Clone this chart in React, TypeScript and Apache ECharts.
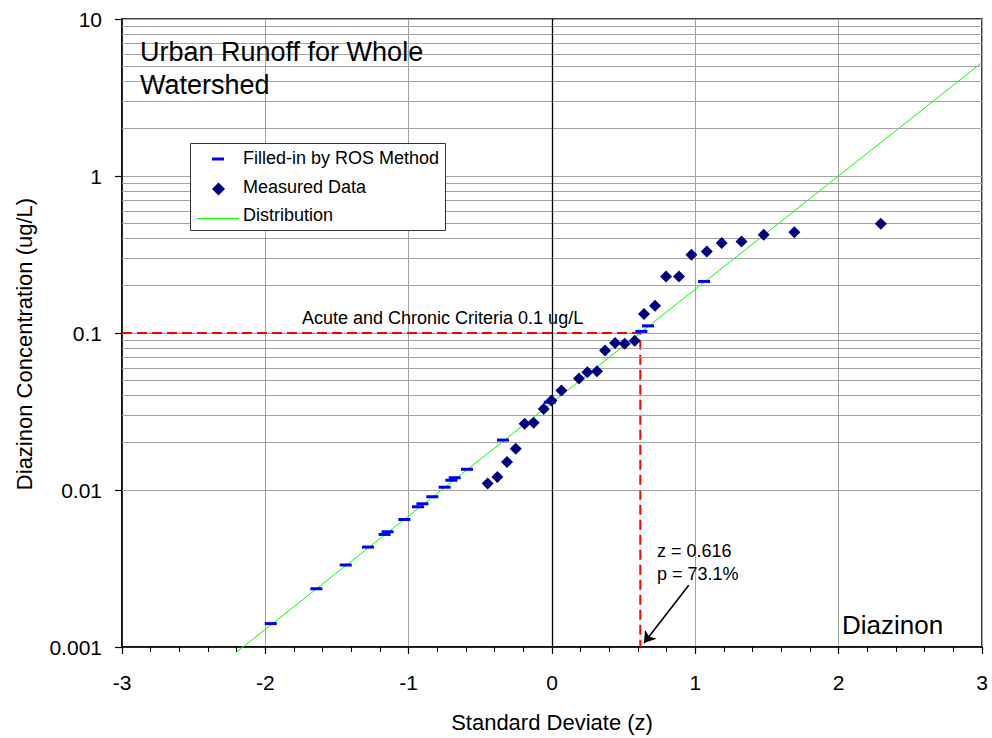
import React, { useEffect, useRef } from "react";
import * as echarts from "echarts";

const FONT = '"Liberation Sans", Arial, Helvetica, sans-serif';

// Filled-in by ROS method (standard deviate z, concentration ug/L)
const rosZ = [-1.962, -1.644, -1.439, -1.284, -1.168, -1.147, -1.03, -0.935, -0.904, -0.835, -0.749, -0.702, -0.679, -0.593, -0.342, -0.016, 0.624, 0.67, 1.061];
const rosC = [0.00141, 0.00235, 0.00333, 0.00433, 0.00521, 0.00542, 0.00649, 0.00782, 0.00817, 0.00906, 0.01042, 0.01154, 0.01197, 0.01355, 0.0208, 0.0362, 0.1024, 0.111, 0.213];

// Measured data
const measZ = [-0.449, -0.381, -0.314, -0.253, -0.191, -0.128, -0.058, -0.004, 0.066, 0.188, 0.247, 0.314, 0.37, 0.44, 0.507, 0.577, 0.642, 0.719, 0.796, 0.886, 0.973, 1.08, 1.184, 1.322, 1.477, 1.691, 2.294];
const measC = [0.011, 0.0121, 0.0151, 0.0183, 0.0264, 0.0268, 0.0328, 0.0371, 0.043, 0.0514, 0.0562, 0.057, 0.0775, 0.0863, 0.0855, 0.0893, 0.132, 0.149, 0.229, 0.229, 0.315, 0.33, 0.374, 0.383, 0.422, 0.439, 0.496];

// Fitted distribution line end points
const distZ = [-2.2, 3];
const distC = [0.00093, 5.28];

// Criterion
const critZ = 0.616;
const critC = 0.1;
const critP = "73.1%";
const critLabel = "Acute and Chronic Criteria 0.1 ug/L";

// Arrow annotation (from label to criterion z on the bottom axis)
const arrowFrom = [0.954, 0.00247];
const arrowTo = [0.642, 0.00106];

// Axes
const xMin = -3;
const xMax = 3;
const yMin = 0.001;
const yMax = 10;
const decades = [0.001, 0.01, 0.1, 1];
const minorMultipliers = [2, 3, 4, 5, 6, 7, 8, 9];

const legendItems = ["Filled-in by ROS Method", "Measured Data", "Distribution"];

export default function App() {
  const ref = useRef<HTMLDivElement>(null);

  useEffect(() => {
    if (!ref.current) return;
    const chart = echarts.init(ref.current, null, { renderer: "svg" });

    const minorValues: number[] = [];
    decades.forEach((d) =>
      minorMultipliers.forEach((m) => minorValues.push(Number((d * m).toPrecision(3))))
    );

    const gridColor = "#a3a3a3";

    const option: any = {
      animation: false,
      backgroundColor: "#fff",
      textStyle: { fontFamily: FONT },
      grid: {
        left: 122,
        right: 10,
        top: 19,
        bottom: 90,
        show: true,
        borderColor: "#000",
        borderWidth: 1.5,
        backgroundColor: "transparent",
      },
      xAxis: {
        type: "value",
        min: xMin,
        max: xMax,
        interval: 1,
        name: "Standard Deviate (z)",
        nameLocation: "middle",
        nameGap: 64,
        nameTextStyle: { fontSize: 22, color: "#000", fontFamily: FONT },
        axisLine: { show: true, onZero: false, lineStyle: { color: "#000", width: 1.5 } },
        axisTick: { show: true, length: 7, lineStyle: { color: "#000", width: 1.2 } },
        minorTick: { show: true, splitNumber: 5, length: 5, lineStyle: { color: "#000", width: 1 } },
        axisLabel: { fontSize: 21, color: "#000", margin: 25, fontFamily: FONT },
        splitLine: { show: true, lineStyle: { color: gridColor, width: 1 } },
      },
      yAxis: {
        type: "log",
        logBase: 10,
        min: yMin,
        max: yMax,
        name: "Diazinon Concentration (ug/L)",
        nameLocation: "middle",
        nameGap: 87,
        nameTextStyle: { fontSize: 22, color: "#000", fontFamily: FONT, padding: [0, 22, 0, 0] },
        axisLine: { show: true, onZero: false, lineStyle: { color: "#000", width: 1.5 } },
        axisTick: { show: true, length: 7, lineStyle: { color: "#000", width: 1.2 } },
        axisLabel: {
          fontSize: 21,
          color: "#000",
          margin: 20,
          fontFamily: FONT,
          formatter: (v: number) => String(Number(v.toPrecision(6))),
        },
        splitLine: { show: true, lineStyle: { color: gridColor, width: 1 } },
      },
      series: [
        {
          name: "grid-minor",
          type: "line",
          data: [],
          silent: true,
          z: 1,
          markLine: {
            silent: true,
            symbol: "none",
            label: { show: false },
            animation: false,
            lineStyle: { color: gridColor, width: 1, type: "solid" },
            data: [
              ...minorValues.map((v) => ({ yAxis: v })),
              { xAxis: 0, lineStyle: { color: "#000", width: 1.3, type: "solid" } },
            ],
          },
        },
        {
          name: "Distribution",
          type: "line",
          data: distZ.map((z, i) => [z, distC[i]]),
          symbol: "none",
          clip: false,
          z: 3,
          lineStyle: { color: "#00ff00", width: 1 },
        },
        {
          name: "Criteria",
          type: "line",
          data: [
            [xMin, critC],
            [critZ, critC],
            [critZ, yMin],
          ],
          symbol: "none",
          z: 4,
          lineStyle: { color: "#ff0000", width: 2, type: [10, 5] },
        },
        {
          name: "Arrow",
          type: "line",
          data: [],
          silent: true,
          z: 7,
          markLine: {
            silent: true,
            symbol: ["none", "arrow"],
            symbolSize: 11,
            label: { show: false },
            itemStyle: { color: "#000" },
            lineStyle: { color: "#000", width: 1.6, type: "solid" },
            data: [[{ coord: arrowFrom }, { coord: arrowTo }]],
          },
        },
        {
          name: "Filled-in by ROS Method",
          type: "scatter",
          data: rosZ.map((z, i) => [z, rosC[i]]),
          symbol: "rect",
          symbolSize: [12, 3],
          z: 5,
          itemStyle: { color: "#0000ff", opacity: 1 },
        },
        {
          name: "Measured Data",
          type: "scatter",
          data: measZ.map((z, i) => [z, measC[i]]),
          symbol: "diamond",
          symbolSize: 12,
          z: 6,
          itemStyle: { color: "#000080", opacity: 1 },
        },
      ],
      graphic: [
        {
          type: "text",
          left: 140,
          top: 35,
          z: 20,
          style: { text: "Urban Runoff for Whole\nWatershed", font: `27px ${FONT}`, fill: "#000", lineHeight: 33 },
        },
        {
          type: "text",
          x: 842,
          y: 625,
          z: 20,
          style: { text: "Diazinon", font: `26px ${FONT}`, fill: "#000", verticalAlign: "middle" },
        },
        {
          type: "text",
          x: 302,
          y: 318,
          z: 20,
          style: { text: critLabel, font: `18px ${FONT}`, fill: "#000", verticalAlign: "middle" },
        },
        {
          type: "text",
          x: 657,
          y: 550.5,
          z: 20,
          style: { text: `z = ${critZ}`, font: `18px ${FONT}`, fill: "#000", verticalAlign: "middle" },
        },
        {
          type: "text",
          x: 657,
          y: 573.5,
          z: 20,
          style: { text: `p = ${critP}`, font: `18px ${FONT}`, fill: "#000", verticalAlign: "middle" },
        },
        {
          type: "group",
          z: 30,
          children: [
            {
              type: "rect",
              shape: { x: 190.5, y: 143.5, width: 255, height: 87 },
              style: { fill: "#fff", stroke: "#333", lineWidth: 1 },
              z: 30,
            },
            {
              type: "rect",
              shape: { x: 212, y: 157.5, width: 12, height: 3 },
              style: { fill: "#0000ff" },
              z: 31,
            },
            {
              type: "polygon",
              shape: { points: [[218.5, 182.5], [225, 189], [218.5, 195.5], [212, 189]] },
              style: { fill: "#000080" },
              z: 31,
            },
            {
              type: "line",
              shape: { x1: 197, y1: 218.5, x2: 239, y2: 218.5 },
              style: { stroke: "#00ff00", lineWidth: 1 },
              z: 31,
            },
            ...legendItems.map((t, i) => ({
              type: "text",
              x: 243,
              y: [157.5, 186.7, 215][i],
              z: 31,
              style: { text: t, font: `18px ${FONT}`, fill: "#000", verticalAlign: "middle" },
            })),
          ],
        },
      ],
    };

    chart.setOption(option);
    return () => chart.dispose();
  }, []);

  return (
    <div
      ref={ref}
      style={{ position: "fixed", left: 0, top: 0, width: 992, height: 738, background: "#fff" }}
    />
  );
}
